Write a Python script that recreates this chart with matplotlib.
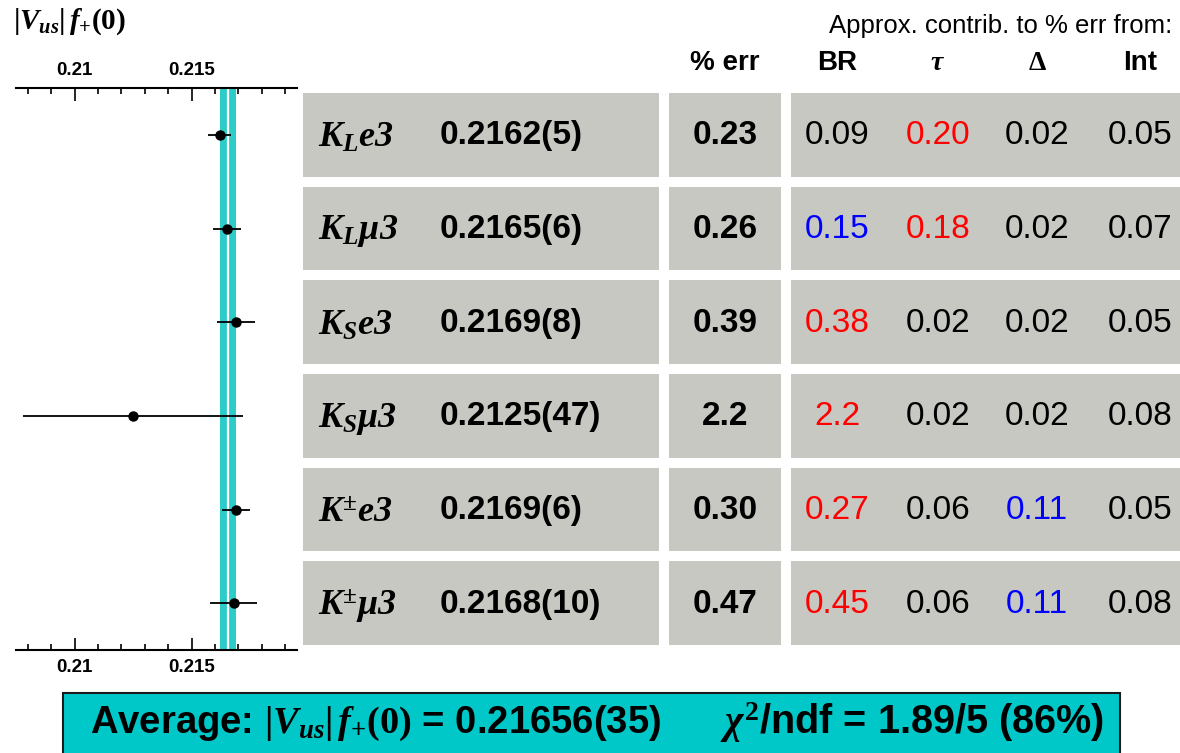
import matplotlib
matplotlib.use("Agg")
import matplotlib.pyplot as plt
from matplotlib.patches import Rectangle
from matplotlib.ticker import MultipleLocator, FuncFormatter
import numpy as np

plt.rcParams.update({
    "font.family": ["Liberation Sans", "DejaVu Sans"],
    "mathtext.fontset": "custom",
    "mathtext.rm": "Liberation Serif:bold",
    "mathtext.it": "Liberation Serif:italic:bold",
    "mathtext.bf": "Liberation Serif:bold",
    "mathtext.bfit": "Liberation Serif:italic:bold",
    "mathtext.sf": "Liberation Sans:bold",
})

# ---- data -------------------------------------------------------------
modes = [r"K_{L}e3", r"K_{L}\mu 3", r"K_{S}e3", r"K_{S}\mu 3",
         r"K^{\pm}e3", r"K^{\pm}\mu 3"]
vus_f0 = [0.2162, 0.2165, 0.2169, 0.2125, 0.2169, 0.2168]
vus_f0_err = [0.0005, 0.0006, 0.0008, 0.0047, 0.0006, 0.0010]
pct_err = ["0.23", "0.26", "0.39", "2.2", "0.30", "0.47"]

contrib_names = ["BR", r"$\tau$", r"$\Delta$", "Int"]
contrib_br = ["0.09", "0.15", "0.38", "2.2", "0.27", "0.45"]
contrib_tau = ["0.20", "0.18", "0.02", "0.02", "0.06", "0.06"]
contrib_delta = ["0.02", "0.02", "0.02", "0.02", "0.11", "0.11"]
contrib_int = ["0.05", "0.07", "0.05", "0.08", "0.05", "0.08"]
color_br = ["black", "blue", "red", "red", "red", "red"]
color_tau = ["red", "red", "black", "black", "black", "black"]
color_delta = ["black", "black", "black", "black", "blue", "blue"]
color_int = ["black"] * 6

avg = 0.21656
avg_err = 0.00035
chi2 = 1.89
ndf = 5
prob_pct = 86

# ---- layout helpers (figure pixel grid) -------------------------------
W, H = 1180, 753
fig = plt.figure(figsize=(W / 100, H / 100), dpi=100)


def fx(x):
    return x / W


def fy(y):
    return 1 - y / H


ax_top, ax_bot = 88, 650
GRAY = "#c8c8c3"
CYAN_BAND = "#2ccdc8"
CYAN_BOX = "#00c8c8"

# table layer sharing the row scale of the plot
tab = fig.add_axes([0, fy(ax_bot), 1, (ax_bot - ax_top) / H], zorder=0)
tab.set_xlim(0, W)
tab.set_ylim(6.5, 0.5)
tab.axis("off")

ax = fig.add_axes([fx(16), fy(ax_bot), (297 - 16) / W, (ax_bot - ax_top) / H],
                  zorder=1)

rows = np.arange(1, len(modes) + 1)

# ---- forest plot ------------------------------------------------------
ax.axvspan(avg - avg_err, avg + avg_err, color=CYAN_BAND, lw=0, zorder=1)
ax.axvline(avg, color="white", lw=1.6, zorder=2)
ax.errorbar(vus_f0, rows, xerr=vus_f0_err, fmt="o", color="black",
            ms=6.5, elinewidth=1.3, capsize=0, zorder=3)
ax.set_xlim(0.2075, 0.2195)
ax.set_ylim(6.5, 0.5)
ax.set_yticks([])
for s in ("left", "right"):
    ax.spines[s].set_visible(False)
for s in ("top", "bottom"):
    ax.spines[s].set_linewidth(1.5)
ax.xaxis.set_major_locator(MultipleLocator(0.005))
ax.xaxis.set_minor_locator(MultipleLocator(0.001))
ax.xaxis.set_major_formatter(FuncFormatter(lambda v, p: f"{v:g}"))
ax.tick_params(axis="x", which="both", direction="in", top=True, bottom=True,
               labeltop=True, labelbottom=True, width=1.2, pad=6.5,
               labelsize=13.5)
ax.tick_params(axis="x", which="major", length=9)
ax.tick_params(axis="x", which="minor", length=4.5)
for lbl in ax.get_xticklabels():
    lbl.set_fontweight("bold")

# ---- table ------------------------------------------------------------
cell_spans = [(303, 659), (669, 781), (791, W)]
half_h = 0.445
for r in rows:
    for x0, x1 in cell_spans:
        tab.add_patch(Rectangle((x0, r - half_h), x1 - x0, 2 * half_h,
                                facecolor=GRAY, edgecolor="none"))

col_x = [837, 938, 1037, 1140]
contrib_vals = [contrib_br, contrib_tau, contrib_delta, contrib_int]
contrib_cols = [color_br, color_tau, color_delta, color_int]

for i, r in enumerate(rows):
    tab.text(318, r + 0.03, rf"$\mathbfit{{{modes[i]}}}$", fontsize=26,
             ha="left", va="center")
    label = f"{vus_f0[i]:.4f}({round(vus_f0_err[i] * 1e4)})"
    tab.text(440, r + 0.01, label, fontsize=24, fontweight="bold",
             ha="left", va="center")
    tab.text(725, r + 0.01, pct_err[i], fontsize=24, fontweight="bold",
             ha="center", va="center")
    for x, vals, cols in zip(col_x, contrib_vals, contrib_cols):
        tab.text(x, r + 0.01, vals[i], fontsize=24, color=cols[i],
                 ha="center", va="center")

# headers
fig.text(fx(1172), fy(26), "Approx. contrib. to % err from:", fontsize=18.5,
         ha="right", va="center")
fig.text(fx(725), fy(63), "% err", fontsize=20, fontweight="bold",
         ha="center", va="center")
for x, name in zip(col_x, contrib_names):
    fig.text(fx(x), fy(63), name, fontsize=20, fontweight="bold",
             ha="center", va="center")

fig.text(fx(13), fy(22), r"$|V_{us}|\,f_{+}(0)$", fontsize=21,
         ha="left", va="center")

# ---- average box ------------------------------------------------------
fig.patches.append(Rectangle((fx(63), -0.02), (1120 - 63) / W,
                             fy(693) + 0.02, transform=fig.transFigure,
                             facecolor=CYAN_BOX, edgecolor="#1a1a1a",
                             lw=1.5, zorder=0))
avg_label = f"{avg:.5f}({round(avg_err * 1e5)})"
fig.text(fx(90), fy(723),
         rf"Average: $|V_{{us}}|\,f_{{+}}(0)$ = {avg_label}",
         fontsize=27.5, fontweight="bold", ha="left", va="center")
fig.text(fx(720), fy(723),
         rf"$\chi^{{2}}$/ndf = {chi2:.2f}/{ndf} ({prob_pct}%)",
         fontsize=28.5, fontweight="bold", ha="left", va="center")

fig.savefig("out.png", dpi=100)
